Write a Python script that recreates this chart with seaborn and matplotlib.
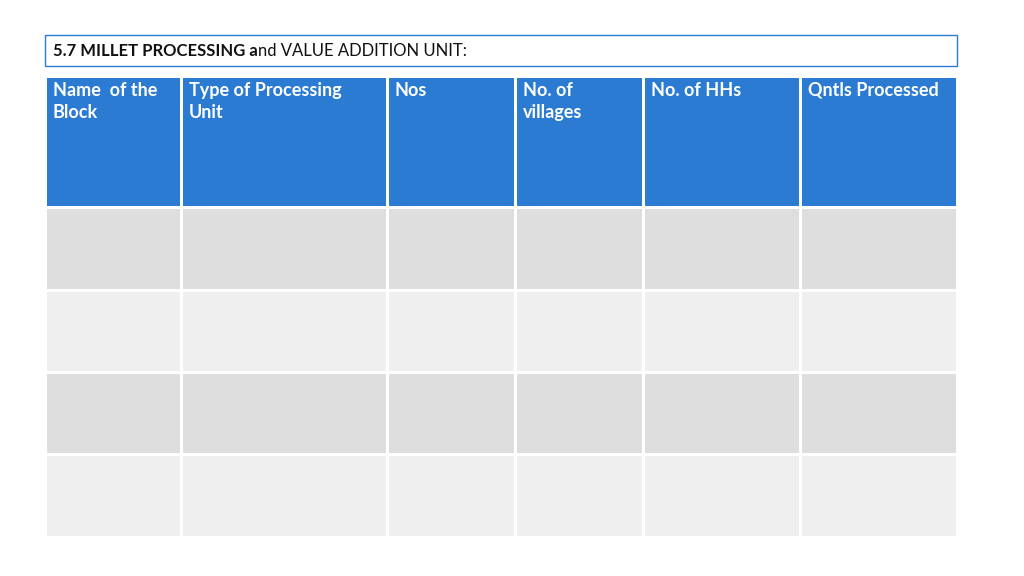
import matplotlib
matplotlib.use("Agg")
import matplotlib.pyplot as plt
import seaborn as sns
import numpy as np

title_bold = "5.7 MILLET PROCESSING a"
title_rest = "nd VALUE ADDITION UNIT:"
headers = ["Name  of the\nBlock", "Type of Processing\nUnit", "Nos", "No. of\nvillages", "No. of HHs", "Qntls Processed"]
col_edges = [45, 181, 387, 515, 643, 800, 957]
row_edges = [76, 207, 290, 372, 454, 537]
n_body_rows = 4

sns.set_theme(style="white")
fig = plt.figure(figsize=(10.24, 5.76), dpi=100)
ax = fig.add_axes([0, 0, 1, 1])
ax.set_xlim(0, 1024); ax.set_ylim(576, 0); ax.axis("off")

# shading matrix: 0 header, 1 dark row, 2 light row
shade = np.array([[0] * 6] + [[1 + (r % 2)] * 6 for r in range(n_body_rows)])
cmap = matplotlib.colors.ListedColormap(["#2B7BD3", "#DEDEDE", "#EFEFEF"])
ax.pcolormesh(col_edges, row_edges, shade, cmap=cmap, vmin=-0.5, vmax=2.5,
              edgecolors="white", linewidth=2)

# title box
ax.add_patch(plt.Rectangle((45, 35), 912, 31, fill=False, edgecolor="#2B7BD3", lw=1))
fs_title = 12
t1 = ax.text(53, 51, title_bold, fontsize=fs_title, fontweight="bold", family="Lato", va="center", color="#111111")
fig.canvas.draw()
bb = t1.get_window_extent()
x2 = ax.transData.inverted().transform((bb.x1, 0))[0]
ax.text(x2, 51, title_rest, fontsize=fs_title, family="Lato", va="center", color="#111111")

for i, h in enumerate(headers):
    ax.text(col_edges[i] + 8, 82, h, fontsize=13, fontweight="bold", family="Lato",
            color="white", va="top", ha="left", linespacing=1.35)

fig.savefig("out.png", dpi=100)
